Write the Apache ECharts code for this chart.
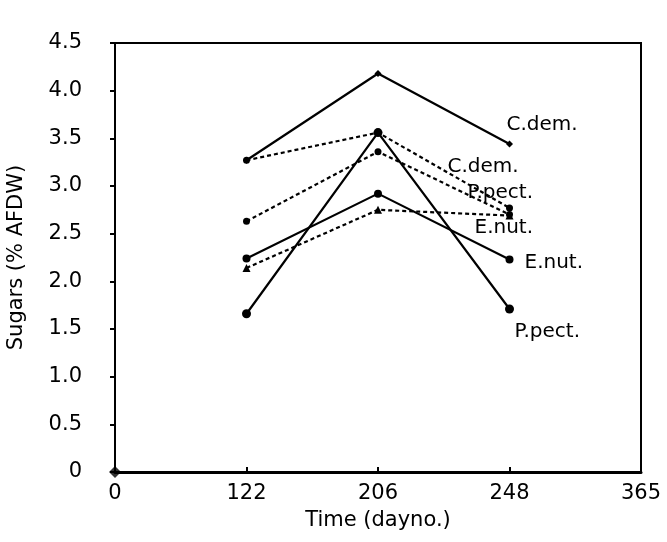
<!DOCTYPE html>
<html>
<head>
<meta charset="utf-8">
<script src="https://cdn.jsdelivr.net/npm/echarts@6/dist/echarts.min.js"></script>
<style>
  html, body { margin: 0; padding: 0; background: #fff; }
  #chart { width: 667px; height: 542px; }
</style>
</head>
<body>
<div id="chart"></div>
<script>
// sugar content (% AFDW) by day number
const days = ['0', '122', '206', '248', '365'];
const cdemSolid = [null, 3.27, 4.18, 3.44, null];
const cdemDotted = [null, 3.27, 3.56, 2.77, null];
const ppectDotted = [null, 2.63, 3.36, 2.70, null];
const enutDotted = [null, 2.14, 2.75, 2.69, null];
const enutSolid = [null, 2.24, 2.92, 2.23, null];
const ppectSolid = [null, 1.66, 3.56, 1.71, null];
const originPoint = [['0', 0]];

const font = 'DejaVu Sans';

// label the last point of each line
const withEndLabel = (values, text, offset) =>
  values.map((v, i) => i === 3 ? {
    value: v,
    label: {
      show: true,
      formatter: text,
      position: 'inside',
      align: 'left',
      verticalAlign: 'middle',
      offset: offset,
      color: '#000',
      fontFamily: font,
      fontSize: 20
    }
  } : v);

const lineSeries = (name, values, dotted, symbol, size, offset) => ({
  name: name,
  type: 'line',
  data: withEndLabel(values, name, offset),
  symbol: symbol,
  symbolSize: size,
  showAllSymbol: true,
  itemStyle: {color: '#000'},
  lineStyle: {color: '#000', width: 2.2, type: dotted ? [4, 3] : 'solid'},
  connectNulls: false,
  animation: false
});

const chart = echarts.init(document.getElementById('chart'));
const option = {
  animation: false,
  grid: {
    left: 115,
    right: 26,
    top: 43,
    bottom: 70,
    containLabel: false,
    outerBoundsMode: 'none',
    show: true,
    borderColor: '#000',
    borderWidth: 2
  },
  xAxis: {
    type: 'category',
    data: days,
    boundaryGap: false,
    name: 'Time (dayno.)',
    nameLocation: 'middle',
    nameGap: 38,
    nameTextStyle: {color: '#000', fontFamily: font, fontSize: 21},
    axisLine: {lineStyle: {color: '#000', width: 3}},
    axisTick: {inside: true, length: 5, lineStyle: {color: '#000', width: 2}},
    axisLabel: {color: '#000', fontFamily: font, fontSize: 21, margin: 11},
    splitLine: {show: false}
  },
  yAxis: {
    type: 'value',
    min: 0,
    max: 4.5,
    interval: 0.5,
    name: 'Sugars (% AFDW)',
    nameLocation: 'middle',
    nameGap: 88,
    nameTextStyle: {color: '#000', fontFamily: font, fontSize: 21},
    axisLine: {show: true, lineStyle: {color: '#000', width: 2}},
    axisTick: {show: true, length: 5, lineStyle: {color: '#000', width: 2}},
    axisLabel: {
      color: '#000',
      fontFamily: font,
      fontSize: 21,
      margin: 33,
      formatter: v => v === 0 ? '0' : v.toFixed(1)
    },
    splitLine: {show: false}
  },
  series: [
    lineSeries('C.dem.', cdemSolid, false, 'diamond', 7, [-3, -19]),
    lineSeries('C.dem. ', cdemDotted, true, 'circle', 7, [-62, -41]),
    lineSeries('P.pect. ', ppectDotted, true, 'circle', 7, [-42, -22]),
    lineSeries('E.nut. ', enutDotted, true, 'triangle', 8, [-35, 12]),
    lineSeries('E.nut.', enutSolid, false, 'circle', 8, [15, 3]),
    lineSeries('P.pect.', ppectSolid, false, 'circle', 9, [5, 23]),
    {
      type: 'scatter',
      data: originPoint,
      symbol: 'diamond',
      symbolSize: 12,
      clip: false,
      z: 5,
      itemStyle: {color: '#000'},
      animation: false
    }
  ]
};
chart.setOption(option);
</script>
</body>
</html>
